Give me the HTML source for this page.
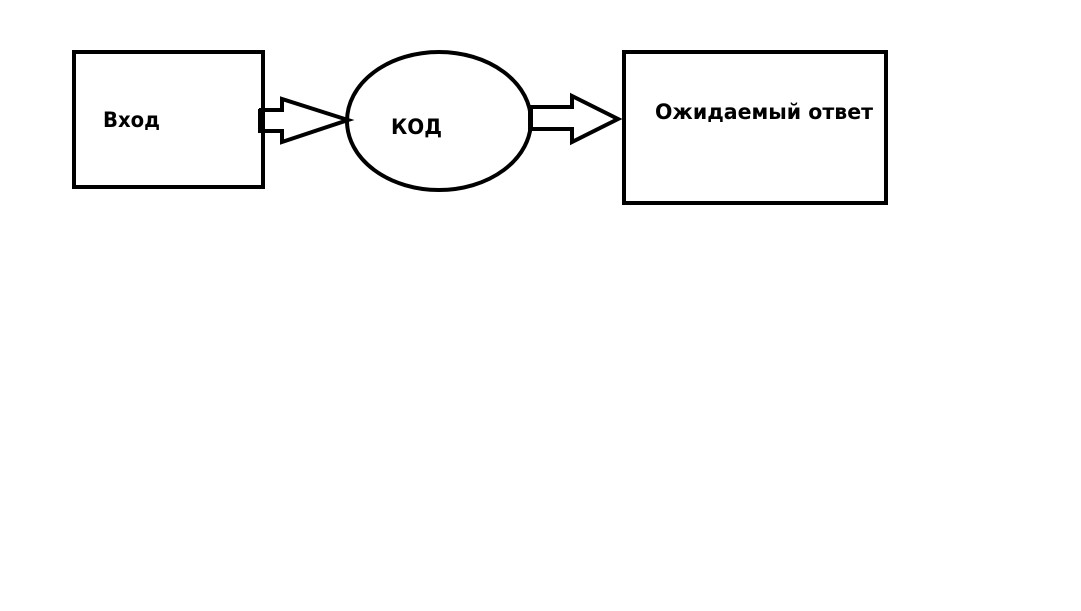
<!DOCTYPE html>
<html><head><meta charset="utf-8"><style>
html,body{margin:0;padding:0;background:#fff;width:1081px;height:611px;overflow:hidden}
text{font-family:"DejaVu Sans","Liberation Sans",sans-serif;font-weight:bold;font-size:21px;fill:#000}
</style></head><body>
<svg width="1081" height="611" xmlns="http://www.w3.org/2000/svg">
<rect x="74" y="52" width="189" height="135" fill="none" stroke="#000" stroke-width="4"/>
<ellipse cx="439" cy="121" rx="92" ry="69" fill="none" stroke="#000" stroke-width="4"/>
<rect x="624" y="52" width="262" height="151" fill="none" stroke="#000" stroke-width="4"/>
<polygon points="261,110 282,110 282,99 348,120 282,142 282,131 261,131" fill="none" stroke="#000" stroke-width="4" stroke-linejoin="miter"/>
<rect x="258" y="109" width="5" height="24" fill="#000"/>
<polygon points="531,107 572,107 572,96 618,119 572,142 572,129 531,129" fill="none" stroke="#000" stroke-width="4"/>
<rect x="528" y="106" width="5" height="25" fill="#000"/>
<text x="103" y="127" textLength="57" lengthAdjust="spacingAndGlyphs">Вход</text>
<text x="391" y="134" textLength="51" lengthAdjust="spacingAndGlyphs">КОД</text>
<text x="655" y="119" textLength="218" lengthAdjust="spacingAndGlyphs">Ожидаемый ответ</text>
</svg>
</body></html>
